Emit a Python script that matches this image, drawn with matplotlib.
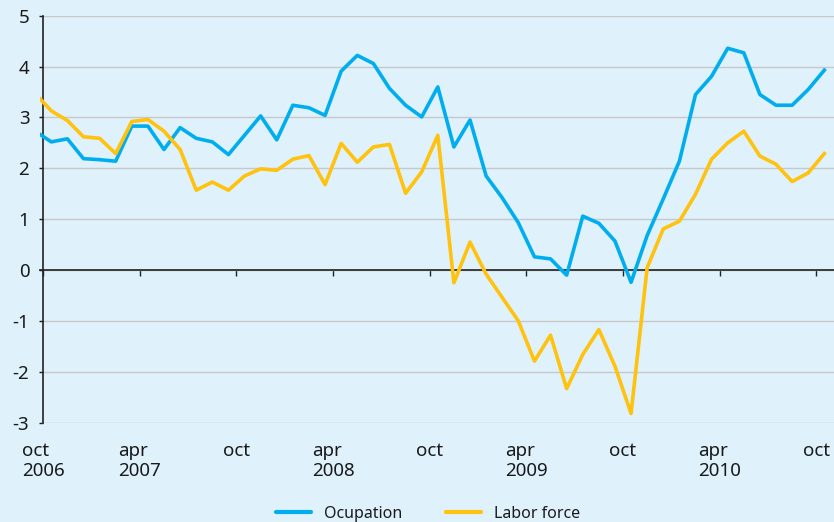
import numpy as np
import matplotlib
matplotlib.use("Agg")
import matplotlib.pyplot as plt

# monthly values, sep 2006 .. oct 2010
ocupation = [2.73, 2.52, 2.58, 2.19, 2.17, 2.14, 2.83, 2.83, 2.37, 2.80,
             2.59, 2.52, 2.27, 2.65, 3.03, 2.56, 3.24, 3.19, 3.04, 3.91,
             4.22, 4.06, 3.57, 3.24, 3.01, 3.60, 2.42, 2.95, 1.85, 1.42,
             0.93, 0.26, 0.22, -0.10, 1.06, 0.92, 0.57, -0.24, 0.68, 1.40,
             2.14, 3.45, 3.81, 4.36, 4.27, 3.45, 3.24, 3.24, 3.55, 3.93]
labor_force = [3.47, 3.13, 2.94, 2.62, 2.59, 2.29, 2.92, 2.96, 2.73, 2.37,
               1.57, 1.73, 1.57, 1.85, 1.99, 1.96, 2.18, 2.25, 1.68, 2.49,
               2.12, 2.42, 2.47, 1.51, 1.93, 2.65, -0.25, 0.55, -0.08, -0.54,
               -1.00, -1.79, -1.28, -2.33, -1.66, -1.17, -1.89, -2.82, 0.05, 0.81,
               0.96, 1.49, 2.18, 2.50, 2.73, 2.24, 2.08, 1.74, 1.91, 2.29]
tick_labels = ["oct\n2006", "apr\n2007", "oct", "apr\n2008", "oct",
               "apr\n2009", "oct", "apr\n2010", "oct"]
y_ticks = [-3, -2, -1, 0, 1, 2, 3, 4, 5]

BG = "#DFF1FB"
BLUE = "#00AEEF"
YELLOW = "#FFC20E"

plt.rcParams["font.family"] = ["Noto Sans", "DejaVu Sans"]
plt.rcParams["axes.unicode_minus"] = False

fig = plt.figure(figsize=(8.34, 5.22), dpi=100, facecolor=BG)
ax = fig.add_axes([40 / 834, 1 - 422.7 / 522, 1 - 40 / 834, (422.7 - 15.7) / 522])
ax.set_facecolor(BG)

# points sit mid-month, ticks at month starts (0 = oct 2006)
x = np.arange(len(ocupation)) - 0.5
ax.plot(x, ocupation, color=BLUE, lw=2.6, solid_joinstyle="round", zorder=3)
ax.plot(x, labor_force, color=YELLOW, lw=2.6, solid_joinstyle="round", zorder=3)

ax.set_xlim(-0.2, 49.1)
ax.set_ylim(-3, 5)
ax.set_yticks(y_ticks)
ax.grid(axis="y", color="#C8C8C8", lw=1.0)
ax.set_axisbelow(True)

for side in ["top", "right"]:
    ax.spines[side].set_visible(False)
ax.spines["left"].set_position(("data", 0))
ax.spines["bottom"].set_position(("data", 0))
for side in ["left", "bottom"]:
    ax.spines[side].set_color("#222222")
    ax.spines[side].set_linewidth(1.2)

tick_pos = np.arange(0, 49, 6)
ax.set_xticks(tick_pos)
ax.tick_params(axis="x", direction="out", length=4, width=1.0, color="#222222", labelbottom=False)
ax.tick_params(axis="y", direction="out", length=3, width=1.0, color="#222222",
               pad=7, labelsize=13.5, labelcolor="#1a1a1a")

sec = ax.secondary_xaxis(0)
sec.set_xticks(tick_pos, labels=tick_labels)
sec.spines["bottom"].set_visible(False)
sec.tick_params(length=0, pad=14, labelsize=13.5, labelcolor="#1a1a1a")
for lbl in sec.get_xticklabels():
    lbl.set_multialignment("left")
    lbl.set_linespacing(1.1)

handles = [plt.Line2D([], [], color=BLUE, lw=3, solid_capstyle="round"),
           plt.Line2D([], [], color=YELLOW, lw=3, solid_capstyle="round")]
fig.legend(handles, ["Ocupation", "Labor force"], loc="center",
           bbox_to_anchor=(0.513, 0.016), ncol=2, frameon=False, fontsize=11.5,
           handlelength=2.2, handletextpad=0.8, columnspacing=2.75,
           labelcolor="#1a1a1a")

fig.savefig("out.png", dpi=100, facecolor=BG)
